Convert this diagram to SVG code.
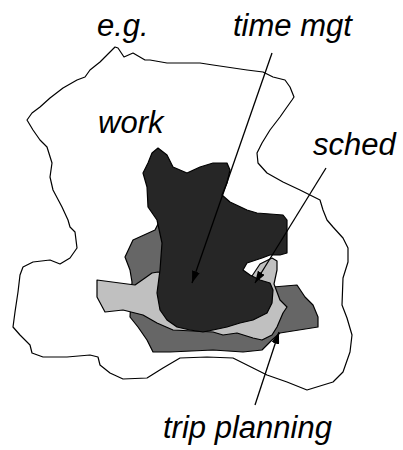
<svg xmlns="http://www.w3.org/2000/svg" width="403" height="450" viewBox="0 0 403 450">
<defs>
<marker id="ah" viewBox="0 0 12 8" refX="12" refY="4" markerWidth="12" markerHeight="8" markerUnits="userSpaceOnUse" orient="auto">
<path d="M0,0 L12,4 L0,8 z" fill="#000"/>
</marker>
<style>
.lbl{font-family:"Liberation Sans",Arial,sans-serif;font-style:italic;font-size:31px;fill:#000}
.blob{stroke:#000;stroke-width:1.2;stroke-linejoin:round}
.con{stroke:#000;stroke-width:1.3;fill:none;marker-end:url(#ah)}
</style>
</defs>
<rect width="403" height="450" fill="#fff"/>
<g id="work">
<path class="blob" fill="#fff" stroke-width="1.6" d="M115,47 L118,48 L124,57 L133,53 L145,60 L150,60 L167,63 L200,63 L213,65 L247,70 L263,72 L273,77 L285,80 L290,87 L294,97 L292,100 L287,107 L280,117 L270,130 L262,143 L257,153 L258,163 L267,173 L283,182 L300,190 L320,200 L323,210 L327,220 L333,227 L343,238 L348,248 L348,262 L343,278 L342,305 L347,318 L352,335 L350,352 L343,372 L333,382 L307,390 L287,382 L267,375 L253,368 L233,358 L207,357 L180,358 L163,368 L147,378 L123,379 L110,373 L100,365 L98,357 L90,355 L67,357 L43,357 L32,353 L30,345 L20,335 L13,327 L15,312 L18,292 L20,275 L23,267 L33,262 L50,260 L60,264 L70,258 L77,248 L75,232 L70,227 L68,220 L62,207 L53,190 L50,177 L52,163 L47,147 L40,140 L33,130 L27,120 L32,113 L40,107 L50,98 L63,88 L77,80 L85,77 L90,70 L100,62 L110,52 Z"/>
</g>
<g id="trip-planning-region">
<path class="blob" fill="#666" d="M160,220 L155,230 L133,240 L125,257 L130,270 L132,282 L130,317 L138,327 L147,340 L153,352 L170,352 L213,350 L243,352 L262,350 L272,340 L280,333 L318,327 L318,317 L313,305 L305,297 L297,285 L273,287 L264,292 L200,245 Z"/>
</g>
<g id="sched-region">
<path class="blob" fill="#c0c0c0" d="M97,280 L135,285 L145,278 L152,273 L158,272 L200,280 L252,276 L260,264 L272,258 L277,261 L277,270 L274,284 L280,300 L287,307 L283,313 L280,320 L277,327 L272,335 L262,340 L253,338 L237,333 L223,335 L213,332 L173,330 L157,323 L143,315 L123,310 L105,312 L97,297 Z"/>
</g>
<g id="time-mgt-region">
<path class="blob" fill="#262626" d="M158,148 L167,155 L173,167 L187,173 L200,167 L213,163 L227,163 L230,170 L227,183 L222,195 L230,202 L247,210 L257,213 L283,215 L287,220 L287,253 L280,255 L270,255 L262,258 L247,263 L243,270 L250,275 L260,280 L270,283 L273,290 L272,303 L267,313 L253,320 L240,323 L227,327 L213,330 L203,332 L190,330 L177,327 L167,320 L160,310 L157,293 L160,270 L162,243 L157,220 L148,207 L147,187 L143,173 L148,163 L152,153 Z"/>
</g>
<g id="connectors">
<line class="con" x1="272" y1="53" x2="192" y2="283"/>
<line class="con" x1="326" y1="168" x2="255" y2="283"/>
<line class="con" x1="255" y1="405" x2="279" y2="332"/>
</g>
<g id="labels">
<text class="lbl" x="97" y="36">e.g.</text>
<text class="lbl" x="233" y="36">time mgt</text>
<text class="lbl" x="98" y="133">work</text>
<text class="lbl" x="313" y="155">sched</text>
<text class="lbl" x="163" y="438">trip planning</text>
</g>
</svg>
